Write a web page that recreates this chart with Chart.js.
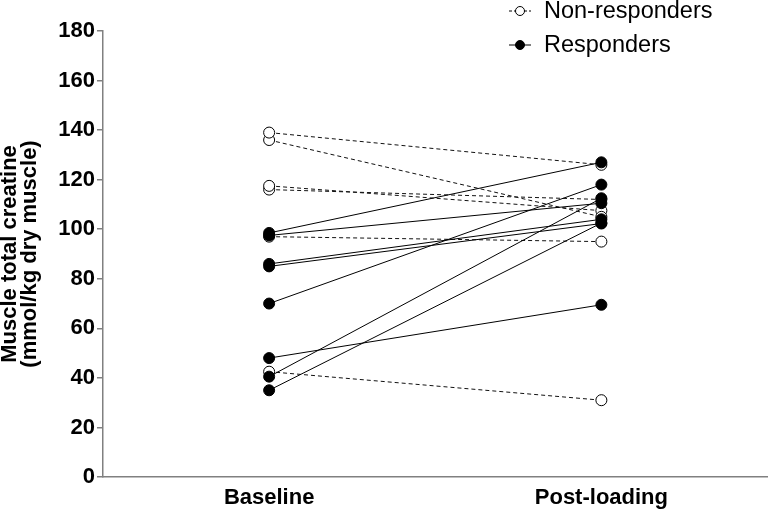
<!DOCTYPE html>
<html><head><meta charset="utf-8">
<script src="https://cdn.jsdelivr.net/npm/chart.js@4"></script>
<style>html,body{margin:0;padding:0;background:#fff}#wrap{width:774px;height:511px;position:relative}</style>
</head><body><div id="wrap"><canvas id="c"></canvas></div>
<script>
const categories = ['Baseline', 'Post-loading'];
const nonRespBaseline = [139, 136, 117.5, 116, 97, 42.5];
const nonRespPost = [126, 105, 107.5, 112, 95, 31];
const respBaseline = [98.5, 97.5, 86, 85, 70, 48, 40.5, 35];
const respPost = [127, 110.5, 104, 102.3, 118, 69.5, 112.5, 102.5];
const yMin = 0, yMax = 180, yStep = 20;
const yTitle = ['Muscle total creatine', '(mmol/kg dry muscle)'];
const legendLabels = ['Non-responders', 'Responders'];

const FONT = "'Liberation Sans', Arial, Helvetica, sans-serif";
const datasets = [];
respBaseline.forEach((b, i) => datasets.push({
  label: legendLabels[1], data: [b, respPost[i]], order: 0,
  borderColor: '#000', borderWidth: 1, pointRadius: 5.5, pointBorderWidth: 1,
  pointBackgroundColor: '#000', pointBorderColor: '#000'
}));
nonRespBaseline.forEach((b, i) => datasets.push({
  label: legendLabels[0], data: [b, nonRespPost[i]], order: 1,
  borderColor: '#111', borderWidth: 1, borderDash: [4, 3], pointRadius: 5.5, pointBorderWidth: 1,
  pointBackgroundColor: '#fff', pointBorderColor: '#000'
}));

const legendPlugin = {
  id: 'customLegend',
  afterDraw(chart) {
    const ctx = chart.ctx;
    ctx.save();
    const items = [
      { y: 11, dash: [3, 2], fill: '#fff', text: legendLabels[0] },
      { y: 45, dash: [], fill: '#000', text: legendLabels[1] }
    ];
    items.forEach(it => {
      ctx.strokeStyle = '#000'; ctx.lineWidth = 1;
      ctx.setLineDash(it.dash);
      ctx.beginPath(); ctx.moveTo(509, it.y); ctx.lineTo(531, it.y); ctx.stroke();
      ctx.setLineDash([]);
      ctx.beginPath(); ctx.arc(520, it.y, 4.5, 0, Math.PI * 2);
      ctx.fillStyle = it.fill; ctx.fill(); ctx.stroke();
      ctx.fillStyle = '#000';
      ctx.font = '23.5px ' + FONT;
      ctx.textBaseline = 'middle'; ctx.textAlign = 'left';
      ctx.fillText(it.text, 544, it.y + 1);
    });
    ctx.restore();
  }
};

new Chart(document.getElementById('c'), {
  type: 'line',
  data: { labels: categories, datasets },
  options: {
    responsive: true, maintainAspectRatio: false, animation: false,
    layout: { padding: { top: 31, right: 4, left: 0, bottom: 0 } },
    plugins: { legend: { display: false }, tooltip: { enabled: false } },
    scales: {
      x: {
        offset: true,
        grid: { display: false },
        border: { display: true, color: '#808080', width: 1.5 },
        ticks: { color: '#000', font: { family: FONT, size: 22, weight: 'bold', lineHeight: 1.0 }, padding: 2 },
        afterFit(s) { s.height = 34; }
      },
      y: {
        min: yMin, max: yMax,
        grid: { display: true, drawOnChartArea: false, drawTicks: true, tickLength: 6, color: '#808080', lineWidth: 1.5 },
        border: { display: true, color: '#808080', width: 1.5 },
        ticks: { stepSize: yStep, color: '#000', font: { family: FONT, size: 22, weight: 'bold' }, padding: 2 },
        title: { display: true, text: yTitle, color: '#000', font: { family: FONT, size: 22, weight: 'bold', lineHeight: 0.9 }, padding: { top: 0, bottom: 0 } },
        afterFit(s) { s.width = 103; }
      }
    }
  },
  plugins: [legendPlugin]
});
</script></body></html>
